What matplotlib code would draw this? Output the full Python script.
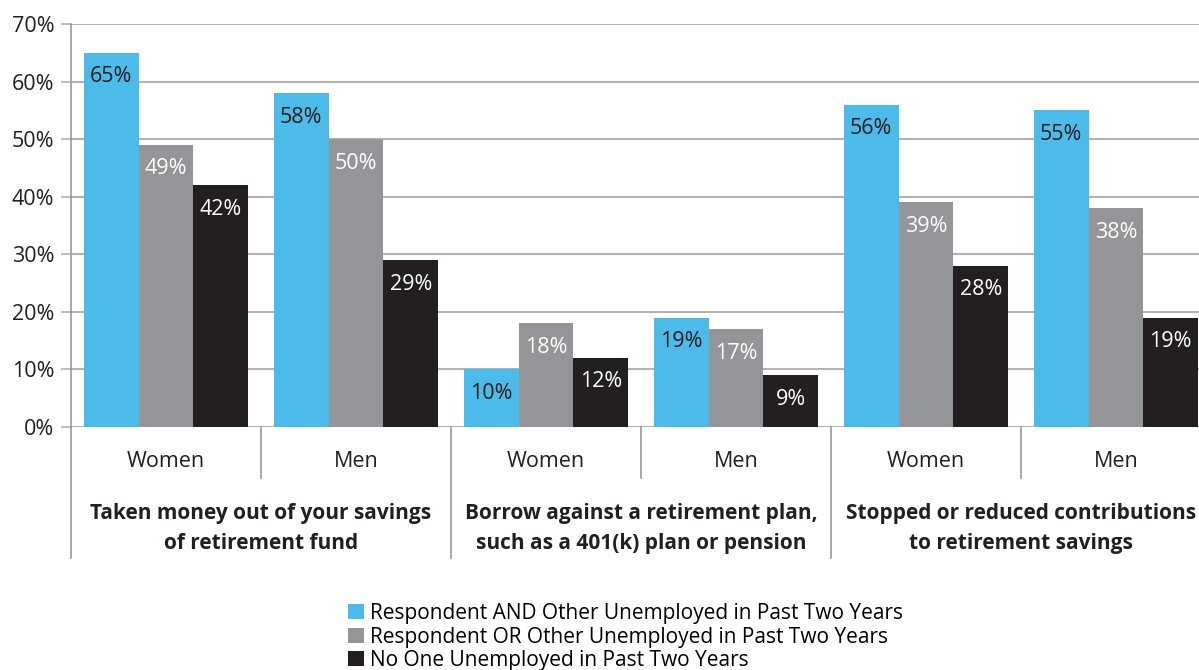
import matplotlib
matplotlib.use('Agg')
import matplotlib.pyplot as plt
import numpy as np

plt.rcParams['font.family'] = ['Open Sans', 'DejaVu Sans']

# Survey results, share of respondents (%)
categories = [
    'Taken money out of your savings\nof retirement fund',
    'Borrow against a retirement plan,\nsuch as a 401(k) plan or pension',
    'Stopped or reduced contributions\nto retirement savings',
]
genders = ['Women', 'Men']
series_names = [
    'Respondent AND Other Unemployed in Past Two Years',
    'Respondent OR Other Unemployed in Past Two Years',
    'No One Unemployed in Past Two Years',
]
both_unemployed = [65, 58, 10, 19, 56, 55]
either_unemployed = [49, 50, 18, 17, 39, 38]
none_unemployed = [42, 29, 12, 9, 28, 19]
yticks = [0, 10, 20, 30, 40, 50, 60, 70]

colors = ['#4dbbea', '#939598', '#231f20']
label_colors = ['#231f20', 'white', 'white']
dark = '#231f20'
line_gray = '#b3b3b3'

W, H = 1199, 670
fig = plt.figure(figsize=(W / 100, H / 100), dpi=100)
# axes run a little past the right edge of the figure
ax = fig.add_axes([71 / W, (H - 427) / H, 1140 / W, 403 / H])

n_groups = len(both_unemployed)
x = np.arange(n_groups)
bw = 0.288
series = [both_unemployed, either_unemployed, none_unemployed]
for i, vals in enumerate(series):
    pos = x + (i - 1) * bw
    ax.bar(pos, vals, width=bw, color=colors[i], label=series_names[i],
           zorder=3, linewidth=0)
    for xp, v in zip(pos, vals):
        ax.annotate(f'{v}%', (xp, v), xytext=(0, -24),
                    textcoords='offset pixels', ha='center', va='center',
                    fontsize=15.5, color=label_colors[i], zorder=4)

ax.set_xlim(-0.5, n_groups - 0.5)
ax.set_ylim(0, 70)
ax.set_yticks(yticks)
ax.set_yticklabels([f'{t}%' for t in yticks], fontsize=15.5, color=dark)
ax.yaxis.grid(True, color=line_gray, linewidth=1.5, zorder=0)
ax.set_xticks([])
ax.tick_params(axis='y', length=7, width=1.2, color=line_gray, pad=5)
for s in ['top', 'right', 'bottom']:
    ax.spines[s].set_visible(False)
ax.spines['left'].set_color('#999999')
ax.spines['left'].set_linewidth(1.2)

# category / gender labels and separators below the axis
trans = ax.get_xaxis_transform()
for g in range(n_groups):
    ax.text(g, -0.085, genders[g % 2], transform=trans, ha='center',
            va='center', fontsize=15.5, color=dark)
    if g % 2 == 1:
        ax.plot([g - 0.5, g - 0.5], [0, -0.127], transform=trans,
                color='#999999', linewidth=1.2, clip_on=False)
for c, name in enumerate(categories):
    ax.text(2 * c + 0.5, -0.252, name, transform=trans, ha='center',
            va='center', fontsize=15, fontweight='bold', color=dark,
            linespacing=1.55)
    ax.plot([2 * c - 0.5, 2 * c - 0.5], [0, -0.325], transform=trans,
            color='#999999', linewidth=1.2, clip_on=False)

fig.legend(loc='upper left', bbox_to_anchor=(348 / W, 1 - 603 / H),
           frameon=False, fontsize=15, handlelength=0.75, handleheight=0.75,
           handletextpad=0.3, labelspacing=0.12, borderpad=0, borderaxespad=0)

fig.savefig('out.png', dpi=100)
